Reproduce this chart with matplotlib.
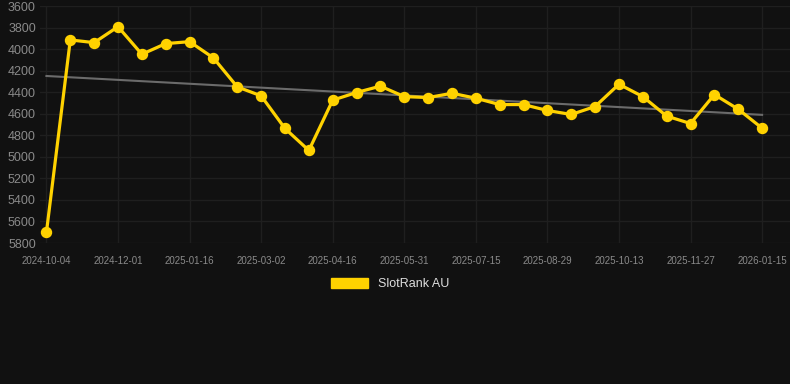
import numpy as np
import matplotlib
matplotlib.use("Agg")
import matplotlib.pyplot as plt
from matplotlib.patches import Patch

# SlotRank AU, one point roughly every two weeks
ranks = [5700, 3915, 3940, 3792, 4048, 3949, 3931, 4082, 4351, 4434,
         4737, 4941, 4474, 4403, 4344, 4441, 4450, 4410, 4456, 4515,
         4515, 4570, 4607, 4533, 4326, 4441, 4622, 4691, 4422, 4558, 4734]
tick_labels = ['2024-10-04', '2024-12-01', '2025-01-16', '2025-03-02', '2025-04-16',
               '2025-05-31', '2025-07-15', '2025-08-29', '2025-10-13', '2025-11-27',
               '2026-01-15']
y_ticks = [3600, 3800, 4000, 4200, 4400, 4600, 4800, 5000, 5200, 5400, 5600, 5800]

bg = '#111111'
yellow = '#ffd200'
text_col = '#8a8a8a'

x = np.arange(len(ranks))

fig = plt.figure(figsize=(7.9, 3.84), dpi=100, facecolor=bg)
ax = fig.add_axes([40 / 790, 1 - 243 / 384, 750 / 790, 237 / 384])
ax.set_facecolor(bg)

# linear trend
k, b = np.polyfit(x, ranks, 1)
ax.plot(x, k * x + b, color='#6b6b6b', lw=1.5, zorder=2)

ax.plot(x, ranks, color=yellow, lw=2.3, marker='o', ms=7.2, zorder=3)

ax.set_ylim(5800, 3600)
ax.set_yticks(y_ticks)
ax.set_xlim(-0.27, 31.17)
ax.set_xticks(x[::3])
ax.set_xticklabels(tick_labels)

ax.grid(True, color='#1f1f1f', lw=1.0)
ax.set_axisbelow(True)
for s in ax.spines.values():
    s.set_visible(False)
ax.tick_params(length=0, colors=text_col)
ax.tick_params(axis='y', labelsize=9, pad=3)
ax.tick_params(axis='x', labelsize=7, pad=9)
for lbl in ax.get_xticklabels() + ax.get_yticklabels():
    lbl.set_family('Liberation Sans')

leg = fig.legend(handles=[Patch(color=yellow, label='SlotRank AU')],
                 loc='center', bbox_to_anchor=(390 / 790, 1 - 284 / 384),
                 frameon=False, handlelength=3.0, handleheight=0.9,
                 prop={'family': 'Liberation Sans', 'size': 9})
for t in leg.get_texts():
    t.set_color('#dddddd')

fig.savefig('out.png', dpi=100, facecolor=bg)
